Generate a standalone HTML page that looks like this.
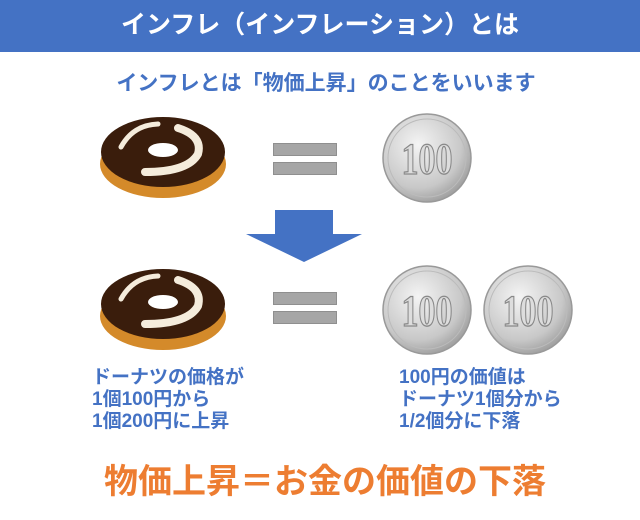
<!DOCTYPE html><html><head><meta charset="utf-8"><style>
body{margin:0;width:640px;height:520px;background:#fff;position:relative;overflow:hidden;font-family:"Liberation Sans","Noto Sans CJK JP",sans-serif;font-weight:bold}
.a{position:absolute}
.hdr{left:0;top:0;width:640px;height:52px;background:#4472C4;color:#fff;font-size:25px;text-align:center;line-height:50px}
.sub{left:0;width:652px;top:67px;text-align:center;color:#4472C4;font-size:21px}
.eq{background:#a6a6a6;border:1px solid #8f8f8f;width:62px;height:11px}
.t{color:#4472C4;font-size:19px;line-height:22px}
.big{left:0;width:650px;text-align:center;top:454px;color:#ED7D31;font-size:34px}
</style></head><body>
<div class="a hdr">インフレ（インフレーション）とは</div>
<div class="a sub">インフレとは「物価上昇」のことをいいます</div>
<svg class="a" style="left:0;top:0" width="640" height="520">
<defs>
<radialGradient id="c" cx="40%" cy="35%" r="70%"><stop offset="0" stop-color="#f4f4f4"/><stop offset="0.7" stop-color="#c8c8c8"/><stop offset="1" stop-color="#9a9a9a"/></radialGradient>
<g id="d">
<ellipse cx="0" cy="12" rx="63" ry="34" fill="#d48a2a"/>
<ellipse cx="0" cy="0" rx="62" ry="35" fill="#3a1d0c"/>
<path d="M-42 -5 Q-30 -27 -5 -28" stroke="#f5ecdc" stroke-width="5" fill="none" stroke-linecap="round"/>
<path d="M15 -24 Q40 -16 35 2 Q25 20 -18 20" stroke="#f5ecdc" stroke-width="8" fill="none" stroke-linecap="round"/>
<ellipse cx="0" cy="-2" rx="15" ry="7" fill="#fff"/>
</g>
<g id="k"><circle r="44" fill="url(#c)" stroke="#999" stroke-width="1.5"/><circle r="39" fill="none" stroke="#bbb"/>
<text x="0" y="14" text-anchor="middle" font-family="Liberation Serif,serif" font-size="40" fill="#ddd" stroke="#888" stroke-width="1.2" transform="scale(0.85,1.1)">100</text></g>
</defs>
<use href="#d" x="163" y="152"/>
<use href="#d" x="163" y="304"/>
<use href="#k" x="427" y="158"/>
<use href="#k" x="427" y="310"/>
<use href="#k" x="528" y="310"/>
<polygon points="275,210 333,210 333,234 362,234 304,262 246,234 275,234" fill="#4472C4"/>
</svg>
<div class="a eq" style="left:273px;top:143px"></div>
<div class="a eq" style="left:273px;top:162px"></div>
<div class="a eq" style="left:273px;top:292px"></div>
<div class="a eq" style="left:273px;top:311px"></div>
<div class="a t" style="left:92px;top:367px">ドーナツの価格が<br>1個100円から<br>1個200円に上昇</div>
<div class="a t" style="left:399px;top:367px">100円の価値は<br>ドーナツ1個分から<br>1/2個分に下落</div>
<div class="a big">物価上昇＝お金の価値の下落</div>
</body></html>
